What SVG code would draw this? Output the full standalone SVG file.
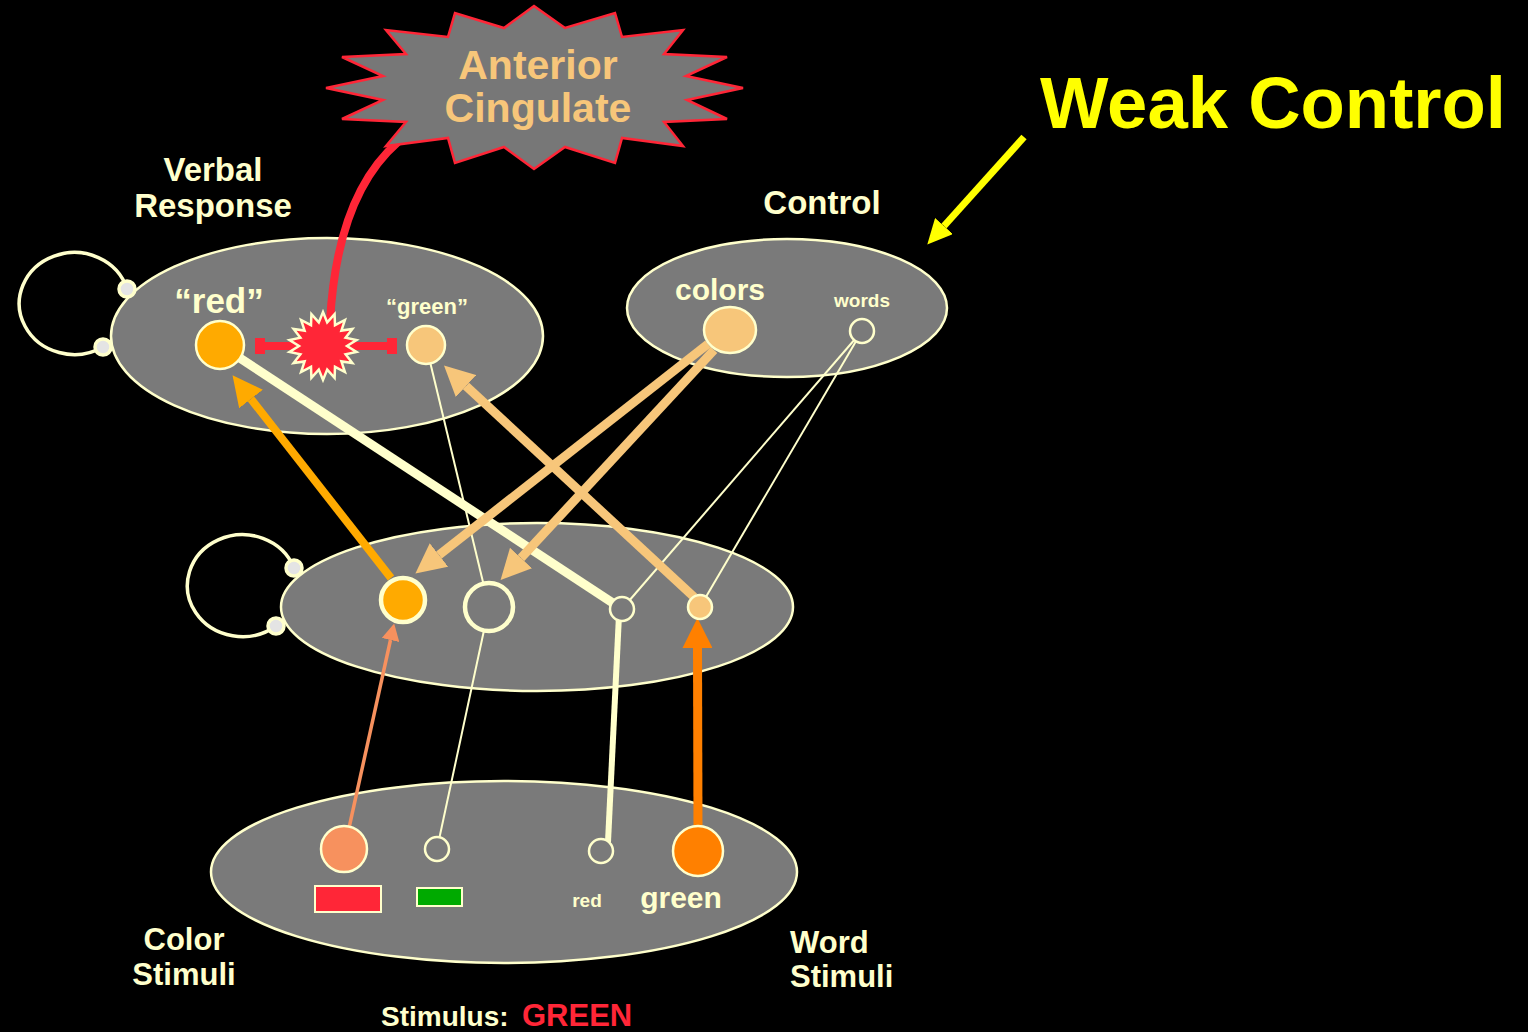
<svg xmlns="http://www.w3.org/2000/svg" width="1528" height="1032" viewBox="0 0 1528 1032">
<defs>
<style>
.region{fill:#7a7a7a;stroke:#ffffcc;stroke-width:2.5}
.lbl{font-family:"Liberation Sans",Arial,Helvetica,sans-serif;font-weight:bold;fill:#ffffcc}
.mid{text-anchor:middle}
.thin{stroke:#ffffcc;stroke-width:2;fill:none}
.knob{fill:#e4e4e4;stroke:#ffffcc;stroke-width:3.5}
.unit{stroke:#ffffcc;stroke-width:2.5}
</style>
<marker id="hOrange" markerUnits="userSpaceOnUse" viewBox="0 -15 30 30" refX="0" refY="0" markerWidth="30" markerHeight="30" orient="auto"><path d="M0,-15 L30,0 L0,15 z" fill="#ffaa00"/></marker>
<marker id="hLight" markerUnits="userSpaceOnUse" viewBox="0 -15 30 30" refX="0" refY="0" markerWidth="30" markerHeight="30" orient="auto"><path d="M0,-15 L30,0 L0,15 z" fill="#f7c67a"/></marker>
<marker id="hBright" markerUnits="userSpaceOnUse" viewBox="0 -15 30 30" refX="0" refY="0" markerWidth="30" markerHeight="30" orient="auto"><path d="M0,-15 L30,0 L0,15 z" fill="#ff8000"/></marker>
<marker id="hSalmon" markerUnits="userSpaceOnUse" viewBox="0 -9 17 18" refX="0" refY="0" markerWidth="17" markerHeight="18" orient="auto"><path d="M0,-9 L17,0 L0,9 z" fill="#f7915e"/></marker>
<marker id="hYellow" markerUnits="userSpaceOnUse" viewBox="0 -12 25 24" refX="0" refY="0" markerWidth="25" markerHeight="24" orient="auto"><path d="M0,-12 L25,0 L0,12 z" fill="#ffff00"/></marker>
</defs>
<rect x="0" y="0" width="1528" height="1032" fill="#000"/>

<g id="verbal-response-layer">
<ellipse class="region" cx="327" cy="336" rx="216" ry="98"/>
<text class="lbl mid" x="213" y="181" font-size="33">Verbal</text>
<text class="lbl mid" x="213" y="217" font-size="33">Response</text>
</g>
<g id="control-layer">
<ellipse class="region" cx="787" cy="308" rx="160" ry="69"/>
<text class="lbl mid" x="822" y="214" font-size="33">Control</text>
</g>
<g id="hidden-layer">
<ellipse class="region" cx="537" cy="607" rx="256" ry="84"/>
</g>
<g id="stimulus-layer">
<ellipse class="region" cx="504" cy="872" rx="293" ry="91"/>
<text class="lbl mid" x="184" y="950" font-size="31">Color</text>
<text class="lbl mid" x="184" y="985" font-size="31">Stimuli</text>
<text class="lbl" x="790" y="953" font-size="31">Word</text>
<text class="lbl" x="790" y="987" font-size="31">Stimuli</text>
</g>

<g id="connectors">
<path d="M127 289 A55 51 0 1 0 103 347" fill="none" stroke="#ffffcc" stroke-width="3.5"/>
<path d="M294 568 A55 51 0 1 0 276 626" fill="none" stroke="#ffffcc" stroke-width="3.5"/>
<path d="M398 142 C360 175 335 230 330 322" fill="none" stroke="#ff2637" stroke-width="8"/>
<line x1="260" y1="346" x2="392" y2="346" stroke="#ff2637" stroke-width="8"/>
<rect x="255" y="338" width="10" height="16" fill="#ff2637"/>
<rect x="387" y="338" width="10" height="16" fill="#ff2637"/>
<line x1="220" y1="345" x2="622" y2="609" stroke="#ffffcc" stroke-width="9"/>
<line class="thin" x1="426" y1="345" x2="489" y2="607"/>
<line class="thin" x1="862" y1="331" x2="622" y2="609"/>
<line class="thin" x1="862" y1="331" x2="700" y2="607"/>
<line class="thin" x1="437" y1="849" x2="489" y2="607"/>
<line x1="608" y1="842" x2="619" y2="615" stroke="#ffffcc" stroke-width="6"/>
<line x1="391" y1="578" x2="251" y2="399" stroke="#ffaa00" stroke-width="8" marker-end="url(#hOrange)"/>
<line x1="694" y1="597" x2="466" y2="386" stroke="#f7c67a" stroke-width="9" marker-end="url(#hLight)"/>
<line x1="708" y1="344" x2="439" y2="555" stroke="#f7c67a" stroke-width="9" marker-end="url(#hLight)"/>
<line x1="714" y1="350" x2="521" y2="558" stroke="#f7c67a" stroke-width="9" marker-end="url(#hLight)"/>
<line x1="349" y1="828" x2="390.5" y2="640" stroke="#f7915e" stroke-width="3.5" marker-end="url(#hSalmon)"/>
<line x1="698" y1="828" x2="697.5" y2="648" stroke="#ff8000" stroke-width="9" marker-end="url(#hBright)"/>
<line x1="1024" y1="137" x2="944" y2="226" stroke="#ffff00" stroke-width="7" marker-end="url(#hYellow)"/>
<circle class="knob" cx="127" cy="289" r="8"/>
<circle class="knob" cx="103" cy="347" r="8"/>
<circle class="knob" cx="294" cy="568" r="8"/>
<circle class="knob" cx="276" cy="626" r="8"/>
</g>

<g id="anterior-cingulate">
<polygon points="534,6 565,28 615,13 622,37 683,30 664,54 727,57 686,76 743,88 687,100 727,119 664,122 683,146 622,138 615,163 565,147 534,169 504,147 455,163 448,138 386,146 406,122 342,119 383,100 326,88 383,76 342,57 406,54 386,30 448,37 455,13 504,28" fill="#777777" stroke="#ff2637" stroke-width="2.5" stroke-linejoin="miter"/>
<text class="lbl mid" x="538" y="79" font-size="41" style="fill:#f7c67a">Anterior</text>
<text class="lbl mid" x="538" y="122" font-size="41" style="fill:#f7c67a">Cingulate</text>
</g>

<g id="conflict">
<polygon transform="translate(323,346)" points="0,-34 4.2,-23.6 11.6,-31.9 12,-20.8 21.9,-26 18.4,-15.4 29.4,-17 22.6,-8.2 33.5,-5.9 24,0 33.5,5.9 22.6,8.2 29.4,17 18.4,15.4 21.9,26 12,20.8 11.6,31.9 4.2,23.6 0,34 -4.2,23.6 -11.6,31.9 -12,20.8 -21.9,26 -18.4,15.4 -29.4,17 -22.6,8.2 -33.5,5.9 -24,0 -33.5,-5.9 -22.6,-8.2 -29.4,-17 -18.4,-15.4 -21.9,-26 -12,-20.8 -11.6,-31.9 -4.2,-23.6" fill="#ff2637" stroke="#ffffcc" stroke-width="2.5"/>
</g>

<g id="resp-red">
<circle class="unit" cx="220" cy="345" r="24" fill="#ffaa00"/>
<text class="lbl mid" x="219" y="313" font-size="35">“red”</text>
</g>
<g id="resp-green">
<circle class="unit" cx="426" cy="345" r="19" fill="#f7c67a"/>
<text class="lbl mid" x="427" y="314" font-size="22">“green”</text>
</g>
<g id="ctrl-colors">
<ellipse class="unit" cx="730" cy="330" rx="26" ry="23" fill="#f7c67a"/>
<text class="lbl mid" x="720" y="300" font-size="30">colors</text>
</g>
<g id="ctrl-words">
<circle class="unit" cx="862" cy="331" r="12" fill="#7a7a7a"/>
<text class="lbl mid" x="862" y="307" font-size="19">words</text>
</g>
<g id="hid-color-red">
<circle cx="403" cy="600" r="22" fill="#ffaa00" stroke="#ffffcc" stroke-width="4.5"/>
</g>
<g id="hid-color-green">
<circle cx="489" cy="607" r="24" fill="#7a7a7a" stroke="#ffffcc" stroke-width="4.5"/>
</g>
<g id="hid-word-red">
<circle class="unit" cx="622" cy="609" r="12" fill="#7a7a7a"/>
</g>
<g id="hid-word-green">
<circle class="unit" cx="700" cy="607" r="12" fill="#f7c67a"/>
</g>
<g id="in-color-red">
<circle class="unit" cx="344" cy="849" r="23" fill="#f7915e"/>
<rect x="315" y="886" width="66" height="26" fill="#ff2637" stroke="#ffffcc" stroke-width="2"/>
</g>
<g id="in-color-green">
<circle class="unit" cx="437" cy="849" r="12" fill="#7a7a7a"/>
<rect x="417" y="888" width="45" height="18" fill="#00aa00" stroke="#ffffcc" stroke-width="2"/>
</g>
<g id="in-word-red">
<circle class="unit" cx="601" cy="851" r="12" fill="#7a7a7a"/>
<text class="lbl mid" x="587" y="907" font-size="19">red</text>
</g>
<g id="in-word-green">
<circle class="unit" cx="698" cy="851" r="25" fill="#ff8000"/>
<text class="lbl mid" x="681" y="908" font-size="30">green</text>
</g>

<g id="annotations">
<text class="lbl" x="1040" y="128" font-size="72.5" style="fill:#ffff00">Weak Control</text>
<text class="lbl" x="381" y="1026" font-size="28">Stimulus:</text>
<text class="lbl" x="522" y="1026" font-size="31" style="fill:#ff2637">GREEN</text>
</g>
</svg>
